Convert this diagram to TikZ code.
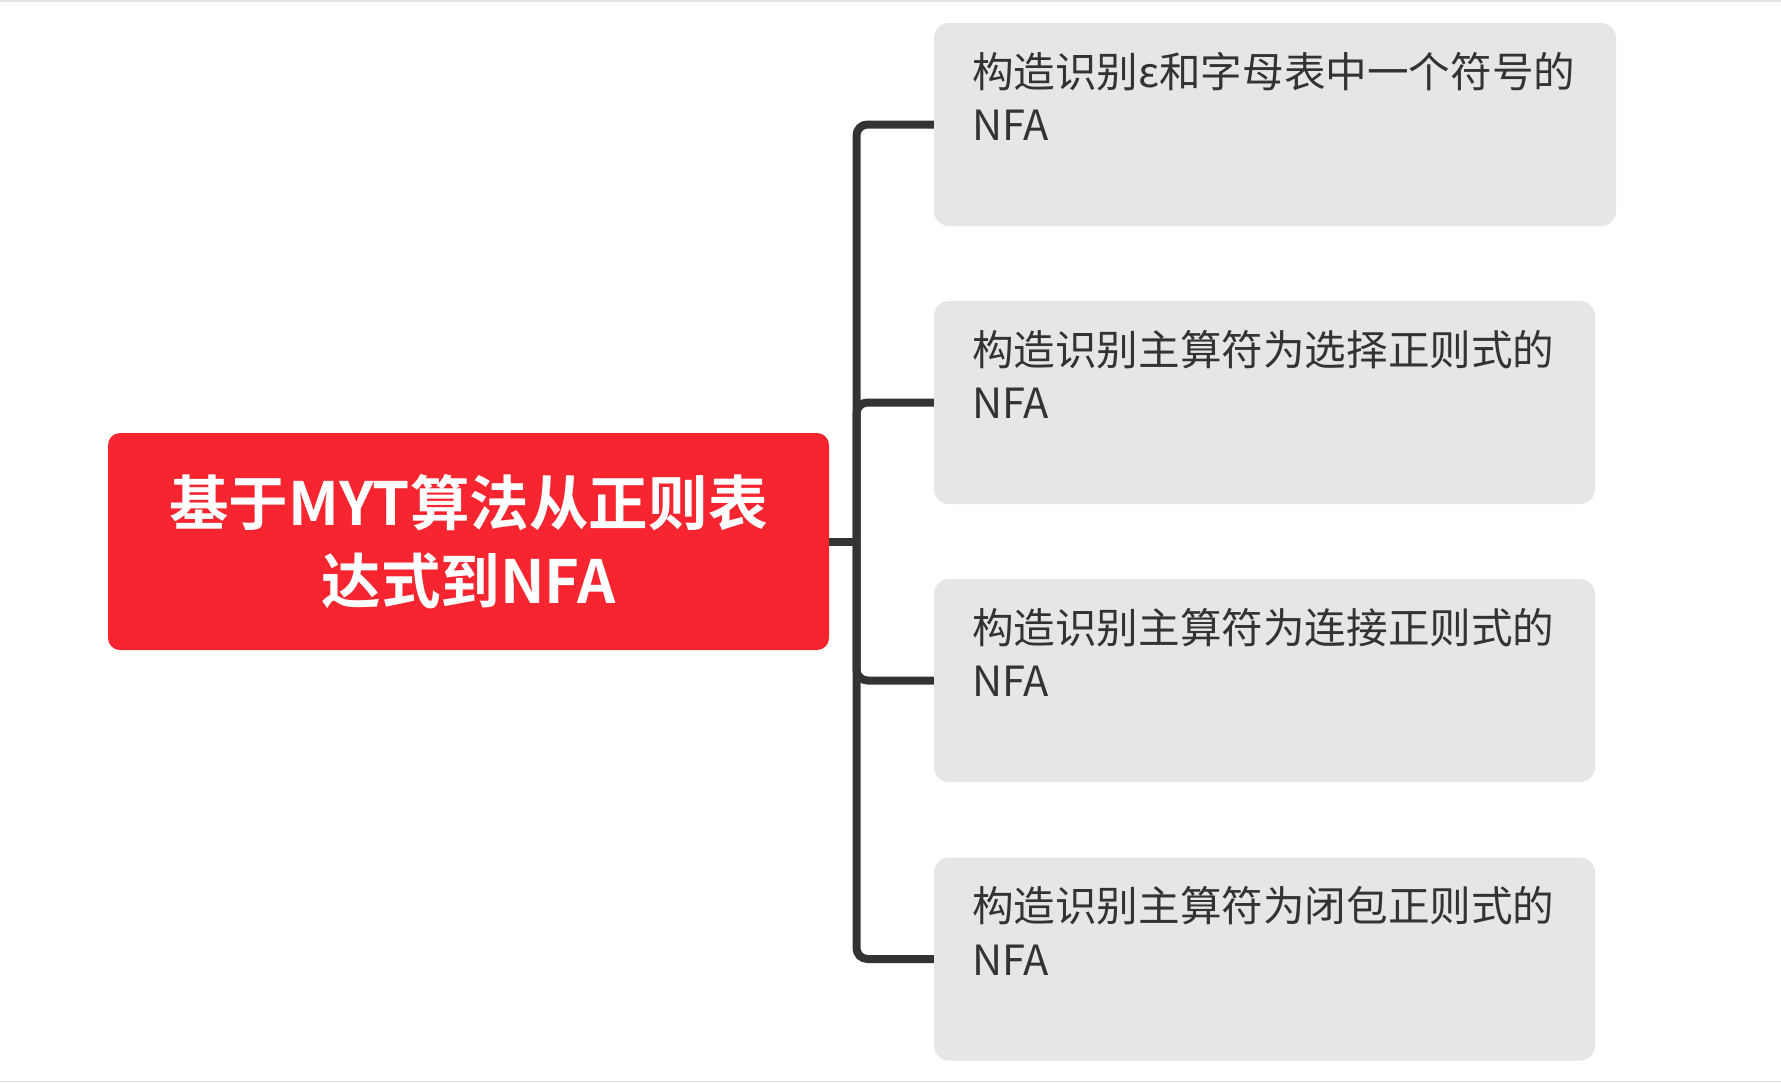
\documentclass[tikz,border=0pt]{standalone}
\usepackage{fontspec}
\newfontfamily\cjk{Noto Sans CJK SC}[BoldFont={Noto Sans CJK SC Bold}]
\definecolor{rootred}{HTML}{F6252F}
\definecolor{boxgray}{HTML}{E6E6E6}
\definecolor{ink}{HTML}{333333}
\definecolor{edge}{HTML}{E3E3E3}
\tikzset{
  rootbox/.style={fill=rootred, rounded corners=12pt, minimum width=721pt, minimum height=217pt, inner sep=0pt,
    text=white, align=center, font=\cjk\bfseries\fontsize{59.6}{78}\selectfont},
  leafbox/.style={fill=boxgray, rounded corners=15pt, minimum height=203pt, inner sep=0pt},
  leaftext/.style={anchor=north west, inner sep=0pt, text=ink, align=left, font=\cjk\fontsize{41.6}{53.5}\selectfont},
  conn/.style={draw=ink, line width=8pt, rounded corners=11pt}
}
\begin{document}
\begin{tikzpicture}[x=1pt,y=-1pt]
\useasboundingbox (0,0) rectangle (1781,1082);
\fill[white] (0,0) rectangle (1781,1082);
\draw[edge, line width=1.5pt] (0,0.75) -- (1781,0.75);
\draw[edge, line width=1.5pt] (0,1081.25) -- (1781,1081.25);

\node[rootbox] (root) at (468.5,541.5) {基于MYT算法从正则表\\达式到NFA};

\node[leafbox, minimum width=682pt] (b1) at (1275,124.5) {};
\node[leafbox, minimum width=661pt] (b2) at (1264.5,402.5) {};
\node[leafbox, minimum width=661pt] (b3) at (1264.5,680.5) {};
\node[leafbox, minimum width=661pt] (b4) at (1264.5,959) {};

\node[leaftext] (t1) at ([xshift=38pt,yshift=-29pt]b1.north west) {构造识别ε和字母表中一个符号的\\NFA};
\node[leaftext] (t2) at ([xshift=38pt,yshift=-29pt]b2.north west) {构造识别主算符为选择正则式的\\NFA};
\node[leaftext] (t3) at ([xshift=38pt,yshift=-29pt]b3.north west) {构造识别主算符为连接正则式的\\NFA};
\node[leaftext] (t4) at ([xshift=38pt,yshift=-29pt]b4.north west) {构造识别主算符为闭包正则式的\\NFA};

\coordinate (j) at (856.5,541.5);
\draw[conn] (root.east) -- (j);
\draw[conn] (j) |- (b1.west);
\draw[conn] (j) |- (b2.west);
\draw[conn] (j) |- (b3.west);
\draw[conn] (j) |- (b4.west);
\end{tikzpicture}
\end{document}
